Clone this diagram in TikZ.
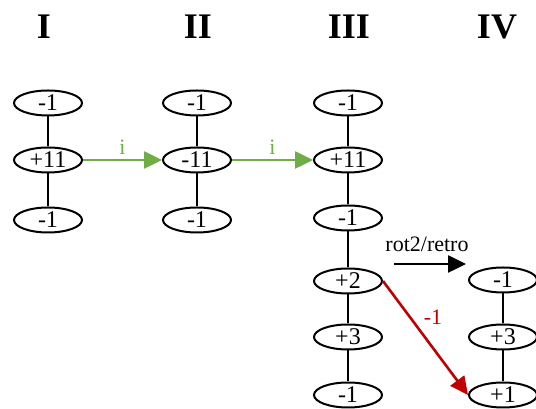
\documentclass[tikz,border=0pt]{standalone}
\usepackage{fontspec}
\setmainfont{Liberation Serif}
\usetikzlibrary{shapes.geometric,arrows.meta}
\definecolor{grn}{HTML}{70AD47}
\definecolor{rd}{HTML}{C00000}
\begin{document}
\begin{tikzpicture}[x=1pt,y=1pt,
  ell/.style={ellipse,draw,line width=2pt,minimum width=68pt,minimum height=25pt,inner sep=0pt,font=\fontsize{24}{24}\selectfont},
  hdr/.style={font=\fontsize{36}{36}\selectfont\bfseries},
  link/.style={line width=1.2pt},
  garrow/.style={grn,line width=2.6pt,-{Triangle[length=18pt,width=17pt]}},
  rarrow/.style={rd,line width=2.6pt,-{Triangle[length=18pt,width=17pt]}},
  karrow/.style={black,line width=2.6pt,-{Triangle[length=18pt,width=17pt]}},
  lbl/.style={font=\fontsize{22}{22}\selectfont}]
\useasboundingbox (0,0) rectangle (536,409);
% headers
\node[hdr] (h1) at (44,382) {I};
\node[hdr] (h2) at (198,382) {II};
\node[hdr] (h3) at (349,382) {III};
\node[hdr] (h4) at (497,382) {IV};
% column I
\node[ell] (a1) at (48,306) {-1};
\node[ell] (a2) at (48,249) {+11};
\node[ell] (a3) at (48,189) {-1};
% column II
\node[ell] (b1) at (197,306) {-1};
\node[ell] (b2) at (197,249) {-11};
\node[ell] (b3) at (197,189) {-1};
% column III
\node[ell] (c1) at (348,306) {-1};
\node[ell] (c2) at (348,249) {+11};
\node[ell] (c3) at (348,191) {-1};
\node[ell] (c4) at (348,128) {+2};
\node[ell] (c5) at (348,72) {+3};
\node[ell] (c6) at (348,14) {-1};
% column IV
\node[ell] (d1) at (503,129) {-1};
\node[ell] (d2) at (503,72) {+3};
\node[ell] (d3) at (503,14) {+1};
% links
\draw[link] (a1) -- (a2); \draw[link] (a2) -- (a3);
\draw[link] (b1) -- (b2); \draw[link] (b2) -- (b3);
\draw[link] (c1) -- (c2); \draw[link] (c2) -- (c3);
\draw[link] (c3) -- (c4); \draw[link] (c4) -- (c5); \draw[link] (c5) -- (c6);
\draw[link] (d1) -- (d2); \draw[link] (d2) -- (d3);
% arrows
\draw[garrow] (a2) -- node[above=1pt,grn,lbl] (l1) {i} (b2);
\draw[garrow] (b2) -- node[above=1pt,grn,lbl] (l2) {i} (c2);
\coordinate (k1) at (394,145);
\coordinate (k2) at (466,145);
\draw[karrow] (k1) -- (k2);
\node[lbl] (rl) at (427,165) {rot2/retro};
\draw[rarrow] (c4.east) -- (d3.west);
\node[lbl,rd] (ml) at (433,92) {-1};
\end{tikzpicture}
\end{document}
